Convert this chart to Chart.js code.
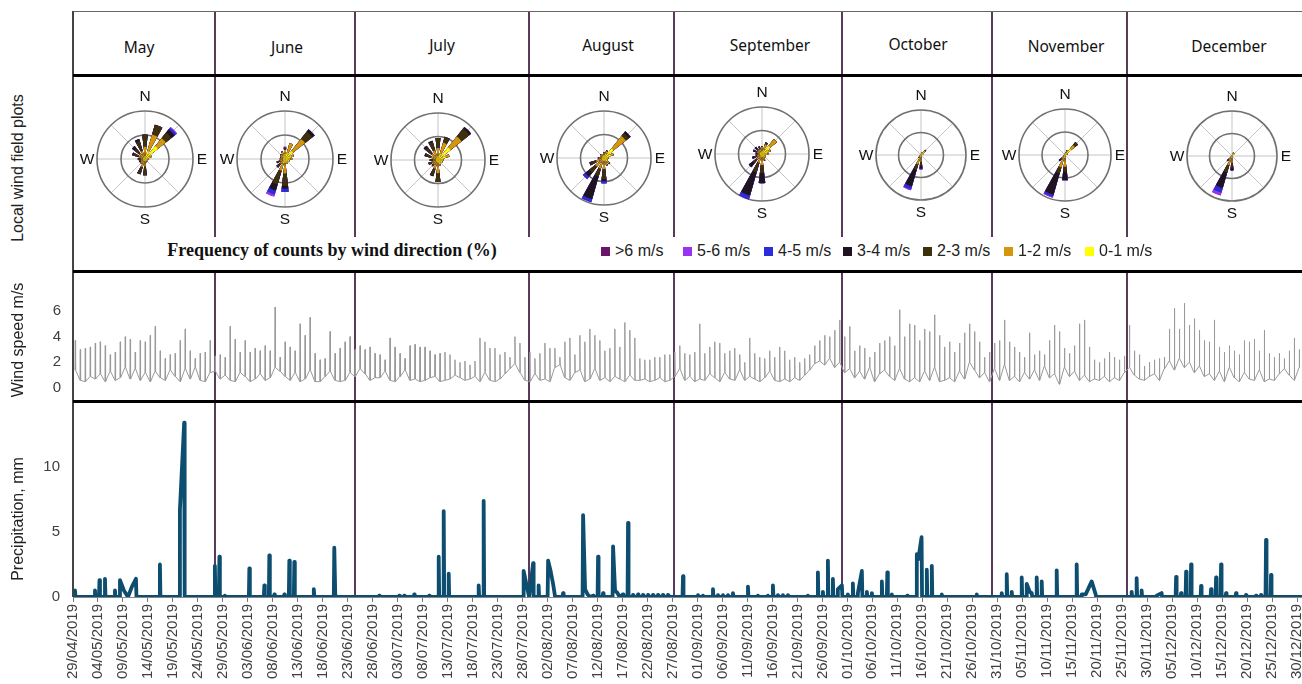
<!DOCTYPE html>
<html><head><meta charset="utf-8">
<script src="https://cdn.jsdelivr.net/npm/chart.js@4.4.1/dist/chart.umd.min.js"></script>
<style>
html,body{margin:0;padding:0;background:#fff;}
#page{position:relative;width:1302px;height:684px;overflow:hidden;font-family:"Liberation Sans",Arial,sans-serif;color:#222;}
canvas{position:absolute;}
.ln{position:absolute;z-index:5;}
.month{position:absolute;font-family:"Noto Sans","Open Sans",sans-serif;font-size:15.5px;transform:translate(-50%,-50%);white-space:nowrap;color:#111;}
.vt{position:absolute;font-size:16px;white-space:nowrap;transform:translate(-50%,-50%) rotate(-90deg);color:#222;}
#legTitle{position:absolute;left:332px;top:250px;transform:translate(-50%,-50%);font-family:"Liberation Serif","DejaVu Serif",serif;font-weight:bold;font-size:18px;white-space:nowrap;color:#111;}
.leg{position:absolute;top:251px;transform:translateY(-50%);font-size:16px;white-space:nowrap;color:#222;display:flex;align-items:center;}
.leg i{display:inline-block;width:9px;height:9px;margin-right:5px;}
</style></head>
<body><div id="page"></div>
<script>
// ---------------- DATA ----------------
const months = ['May','June','July','August','September','October','November','December'];
const speedClasses = ['0-1 m/s','1-2 m/s','2-3 m/s','3-4 m/s','4-5 m/s','5-6 m/s','>6 m/s'];
const compassLabels = ['N','E','S','W'];
const legendTitle = 'Frequency of counts by wind direction (%)';
const rowTitles = ['Local wind field plots','Wind speed m/s','Precipitation, mm'];
const startDate = [2019, 4, 29];            // 29/04/2019 = day 0
const axisDays = 246;
const dateTickStep = 5;
const windTicks = [0, 2, 4, 6];
const precipTicks = [0, 5, 10];
// month separators (days since 29/04/2019)
const separatorDays = [28.4, 56.4, 91.2, 120.2, 154, 184, 211];

// wind roses: 16 directions (N, NNE, ... NNW) x 7 speed classes (0-1 ... >6), % frequency
const roseMay = [
 [1.3,3.8,5.1,0,0,0,0],[3.4,7.2,4.3,0,0,0,0],[6.8,4.3,3.0,1.7,0.9,0.4,0],[2.1,0.9,0,0,0,0,0],
 [1.3,0.4,0,0,0,0,0],[0.9,0.3,0,0,0,0,0],[0.9,0.4,0,0,0,0,0],[0.9,0.4,0.2,0,0,0,0],
 [0.9,2.1,3.8,0,0,0,0],[0.9,2.6,3.0,0.2,0,0,0],[0.9,1.3,0.3,0,0,0,0],[0.9,0.9,0.9,0,0,0,0],
 [0.4,1.3,1.3,0,0,0,0],[0.9,1.7,2.6,0.4,0,0,0],[0.9,2.1,2.6,1.3,0,0,0],[0.9,2.6,4.3,0.9,0,0,0]];
const roseJune = [
 [2.1,1.7,0.9,0,0,0.4,0],[2.6,4.3,0,0,0,0,0],[4.3,6.4,3.8,1.3,0,0,0],[2.6,1.3,0,0,0,0,0],
 [2.1,0.9,0,0,0,0,0],[1.7,0.4,0,0,0,0,0],[1.3,0.4,0,0,0,0,0],[1.3,0.9,0,0,0,0,0],
 [1.7,4.3,5.1,1.3,1.3,0,0],[1.7,3.4,6.0,2.6,1.7,0.9,0],[0.9,1.7,1.7,0.3,0,0,0],[0.9,1.3,1.3,0.2,0,0,0],
 [0.9,1.3,0,0,0,0,0],[0.9,0.9,0.4,0,0,0,0],[0.9,1.3,0.4,0,0,0,0],[1.3,1.7,0.4,0,0,0,0]];
const roseJuly = [
 [1.7,3.4,4.3,0,0,0,0],[2.6,5.1,2.6,0,0,0,0],[6.8,6.0,4.3,0.9,0,0,0],[3.4,1.7,0,0,0,0,0],
 [2.1,0.4,0,0,0,0,0],[1.7,0.4,0,0,0,0,0],[1.3,0.4,0,0,0,0,0],[1.7,0.9,0,0,0,0,0],
 [1.3,4.3,3.8,0,0,0,0],[0.9,3.0,3.0,0.3,0,0,0],[0.9,1.7,0.9,0,0,0,0],[0.9,1.7,1.7,0,0,0,0],
 [0.9,1.3,1.3,0,0,0,0],[0.9,2.1,2.6,0.4,0,0,0],[0.9,2.6,3.4,0.9,0,0,0],[1.3,3.0,3.8,0.4,0,0,0]];
const roseAugust = [
 [1.3,0.9,0.4,0,0,0,0],[1.7,1.3,0.4,0,0,0,0],[5.1,6.8,1.7,0.9,0,0,0],[3.0,1.3,0,0,0,0,0],
 [1.7,0.4,0,0,0,0,0],[1.3,0.4,0,0,0,0,0],[1.7,1.3,0.4,0,0,0,0],[1.3,1.7,0.4,0,0,0,0],
 [1.3,3.4,4.3,0.9,0.9,0,0],[1.3,3.4,3.4,10.2,1.3,0,0],[1.3,3.4,3.4,2.1,1.3,0,0],[0.9,2.6,2.6,0.4,0,0,0],
 [0.9,1.3,0.4,0,0,0,0],[0.9,0.9,0,0,0,0,0],[0.9,0.9,0.4,0,0,0,0],[0.9,0.9,0,0,0,0,0]];
const roseSeptember = [
 [1.3,1.7,0.4,0,0,0,0],[1.7,2.6,0.9,0,0,0,0],[4.3,3.8,0,0,0,0,0],[2.6,1.3,0,0,0,0,0],
 [2.1,0.9,0,0,0,0,0],[1.3,0.4,0,0,0,0,0],[1.3,0.9,0,0,0,0,0],[1.3,1.3,0.4,0,0,0,0],
 [1.3,3.4,3.4,4.3,0,0,0],[1.3,2.6,4.3,10.2,1.7,0,0],[0.9,2.1,2.1,2.1,0,0,0],[0.9,1.3,1.3,0.9,0,0,0],
 [0.9,0.9,0.9,0,0,0,0],[0.9,1.3,0.9,0.9,0,0,0],[0.9,1.3,0.9,0.9,0,0,0],[0.9,1.3,0.9,0.4,0,0,0]];
const roseOctober = [
 [0.4,0.2,0,0,0,0,0],[0.9,0.4,0,0,0,0,0],[1.7,0.9,0.4,0,0,0,0],[0.9,0.2,0,0,0,0,0],
 [0.4,0,0,0,0,0,0],[0.4,0,0,0,0,0,0],[0.4,0.2,0,0,0,0,0],[0.4,0.4,0,0,0,0,0],
 [0.9,2.1,1.7,1.3,0.4,0,0],[0.9,3.4,2.6,7.7,1.3,0.4,0],[0.4,0.9,0.4,0,0,0,0],[0.4,0.4,0,0,0,0,0],
 [0.4,0,0,0,0,0,0],[0.4,0,0,0,0,0,0],[0.4,0,0,0,0,0,0],[0.4,0,0,0,0,0,0]];
const roseNovember = [
 [0.4,0.4,0,0,0,0,0],[0.9,0.9,0.4,0,0,0,0],[3.4,2.1,1.7,0,0,0,0],[0.9,0.4,0,0,0,0,0],
 [0.4,0,0,0,0,0,0],[0.4,0,0,0,0,0,0],[0.4,0,0,0,0,0,0],[0.4,0.4,0,0,0,0,0],
 [1.3,3.8,2.1,3.8,0,0,0],[1.3,4.3,2.6,9.8,0.9,0.4,0],[0.4,1.3,0.9,0.9,0,0,0],[0.4,0.4,0,0,0,0,0],
 [0.4,0,0,0,0,0,0],[0.4,0,0,0,0,0,0],[0.4,0,0,0,0,0,0],[0.4,0,0,0,0,0,0]];
const roseDecember = [
 [0.4,0,0,0,0,0,0],[1.3,0.4,0,0,0,0,0],[1.3,0.4,0,0,0,0,0],[0.4,0,0,0,0,0,0],
 [0.4,0,0,0,0,0,0],[0.2,0,0,0,0,0,0],[0.2,0,0,0,0,0,0],[0.4,0,0,0,0,0,0],
 [0.9,2.1,2.1,1.3,0,0,0],[0.9,3.4,3.4,7.2,2.1,1.3,0],[0.4,1.3,0.9,0.4,0,0,0],[0.4,0.4,0,0,0,0,0],
 [0.2,0,0,0,0,0,0],[0.2,0,0,0,0,0,0],[0.2,0,0,0,0,0,0],[0.2,0,0,0,0,0,0]];
const roses = [roseMay, roseJune, roseJuly, roseAugust, roseSeptember, roseOctober, roseNovember, roseDecember];

// daily wind speed: peak and low values (m/s), day 0 = 29/04/2019
const windPeak = [
 3.7,3.0,3.1,3.2,3.5,3.6,3.3,2.6,2.8,3.6,4.0,3.8,2.8,3.7,3.6,4.1,4.8,2.9,2.3,2.6,2.7,3.7,4.6,2.9,2.3,2.7,2.8,3.7,
 2.5,2.6,2.4,4.8,3.8,2.8,3.7,2.8,3.1,2.9,3.3,2.9,6.3,2.4,3.6,3.2,2.9,5.0,4.1,5.5,2.7,2.2,2.3,4.4,2.7,3.1,3.6,4.0,3.0,
 3.3,3.0,3.2,2.7,
 2.6,2.2,3.9,3.2,2.7,2.3,3.3,3.4,3.2,3.2,2.9,2.6,2.7,2.8,2.6,2.2,2.0,2.1,1.8,2.1,3.9,3.6,3.1,3.1,2.6,2.8,2.4,4.0,3.5,2.4,
 2.8,2.3,2.7,3.5,3.1,3.1,2.4,3.6,3.9,2.6,4.1,3.6,4.6,4.1,3.7,2.9,3.1,4.6,3.2,5.1,4.5,3.9,2.3,2.2,2.2,2.4,2.4,2.6,2.6,2.8,3.3,
 2.7,2.6,2.8,5.0,2.7,3.2,3.6,3.5,2.7,2.9,3.1,2.6,2.0,3.9,2.7,2.4,2.3,2.9,2.4,3.2,2.9,2.2,2.4,2.0,2.3,2.6,3.3,3.7,4.1,4.0,4.5,
 5.3,4.0,4.8,2.9,3.3,3.1,2.4,2.8,3.5,3.7,4.0,3.3,6.1,4.0,5.0,4.9,3.7,4.6,4.4,5.7,4.1,3.2,3.6,2.8,3.5,4.3,5.0,4.4,3.6,2.4,2.8,
 3.5,3.7,5.3,3.6,3.2,2.8,2.4,4.3,2.6,2.9,2.6,3.7,4.9,4.4,3.1,2.7,3.3,5.0,5.3,3.2,2.2,2.0,2.3,2.8,2.4,2.2,
 2.5,4.9,2.9,2.6,1.7,2.0,2.2,2.3,2.4,4.6,6.2,4.6,6.6,4.9,5.4,4.5,3.7,3.6,5.3,3.2,2.8,3.3,2.9,2.6,3.7,3.6,3.8,2.9,4.5,2.7,
 2.4,2.7,2.3,2.9,3.9,3.0];
const windLow = [
 1.4,0.6,0.5,0.9,0.7,1.1,0.5,1.3,0.6,0.8,1.6,0.7,1.5,0.6,1.2,0.5,1.3,0.8,0.6,1.4,0.9,0.5,1.5,0.7,1.6,0.6,0.5,1.2,
 1.3,0.7,1.0,0.6,0.5,1.2,0.9,0.5,0.7,1.1,0.6,0.8,1.6,1.3,0.9,0.6,1.2,0.5,0.7,1.4,0.5,0.5,0.9,1.3,0.6,0.5,0.6,1.2,0.9,
 1.5,1.1,0.6,0.8,
 0.8,1.3,0.6,0.5,0.9,1.4,0.6,0.7,0.5,0.6,0.8,0.9,0.5,0.6,0.7,1.0,0.8,0.6,0.7,0.9,0.5,1.2,0.6,0.5,0.7,1.1,1.5,1.9,1.2,0.6,
 0.5,1.1,0.6,0.7,0.5,1.6,1.8,0.8,0.6,1.2,1.4,0.5,0.7,1.5,0.6,0.8,0.5,0.9,0.7,0.5,1.0,0.6,0.6,0.7,0.5,0.6,0.8,0.5,0.6,0.9,1.5,
 0.6,0.9,0.5,0.7,0.6,1.1,0.8,0.5,1.2,0.7,0.6,1.4,0.6,0.9,0.7,0.5,0.8,1.3,0.6,0.5,0.7,0.5,0.8,0.6,1.0,1.4,1.9,2.1,1.8,2.3,
 1.6,2.0,1.2,1.5,0.8,1.3,0.7,1.6,0.5,1.1,1.4,0.9,0.6,1.5,0.7,0.5,0.8,0.5,1.3,0.6,1.6,0.5,0.6,0.8,0.5,1.3,0.7,2.0,1.4,0.8,1.2,0.5,
 1.5,0.6,1.8,0.6,0.9,0.5,1.2,0.7,1.4,0.6,1.7,0.8,1.1,0.3,1.6,0.9,1.3,0.6,1.0,0.5,0.7,0.6,0.9,0.5,0.8,0.6,1.2,1.6,1.0,0.7,
 0.6,0.9,1.1,0.6,1.5,2.1,1.4,2.3,1.6,2.0,1.2,1.7,0.9,1.1,0.6,1.3,0.5,1.6,0.8,0.5,1.2,0.7,0.6,1.4,0.5,0.7,0.6,1.1,1.5,1.0,
 0.6,1.6];

// precipitation events: day since 29/04/2019 and amount (mm)
const precipDay = [0.4,4.4,5.3,6.4,8.4,9.4,10.2,11.0,11.8,12.6,17.4,21.4,22.25,28.4,29.3,30.4,35.3,38.3,39.3,40.3,42.3,43.3,44.3,48.2,52.3,52.5,
 61.3,65.3,66.3,68.3,71.3,73.2,74.2,75.2,81.2,82.2,90.2,90.8,91.3,92.1,93.2,95.1,95.6,96.1,96.5,98.1,102.1,102.5,103.0,103.5,104.1,105.1,106.1,
 108.1,108.5,109.0,109.4,110.1,111.1,112.1,113.1,114.1,115.1,116.1,117.1,118.1,119.1,122.1,125.1,126.1,128.1,129.1,130.1,131.1,132.1,135.1,137.1,139.1,
 140.1,141.1,142.1,143.1,147.1,149.1,150.1,151.1,152.1,153.1,153.9,155.1,156.1,157.1,157.9,158.9,159.9,161.9,163.0,163.9,167.0,168.9,169.2,169.85,
 170.9,171.9,173.9,180.9,185.9,186.9,187.9,189.9,190.9,191.5,191.9,192.9,193.9,196.9,200.9,201.9,202.7,203.3,203.9,204.7,211.9,212.9,213.9,
 216.9,217.4,217.9,220.8,221.8,222.8,223.8,225.8,227.8,228.8,229.8,230.8,232.8,234.8,236.8,237.8,238.8,239.8];
const precipMm = [0.5,0.5,1.3,1.4,0.5,1.3,0.5,0,0.8,1.4,2.5,6.7,13.4,2.4,3.1,0.1,2.2,0.9,3.2,0.2,0.2,2.8,2.7,0.6,3.8,0.1,
 0.1,0.1,0.1,0.2,0.1,3.1,6.6,1.8,0.9,7.4,2.0,0.9,0,2.6,0.9,2.8,2.0,1.0,0,0.3,6.3,0.6,0.2,0,0.1,3.1,0.3,
 3.9,0.5,0.3,0,0.2,5.7,0.15,0.2,0.15,0.15,0.15,0.15,0.15,0.15,1.6,0.15,0.1,0.6,0.15,0.15,0.15,0.3,0.8,0.1,0.1,
 0.9,0.15,0.15,0.15,0.1,1.9,0.4,2.8,1.4,0.6,0.9,0.2,1.05,0.3,2.0,0.4,0.3,1.2,1.9,0.2,0.1,3.3,2.9,4.6,
 2.1,2.4,0.2,0.2,0.3,1.75,0.4,1.5,1.0,0.4,0.3,1.5,1.2,2.05,2.5,0.2,0.2,0.7,1.2,0.2,0.4,1.45,0.5,
 0.1,0.2,0.3,1.55,0.3,1.95,2.5,0.85,0.6,1.5,2.5,0.3,0.3,0.15,0.1,0.15,4.4,1.7];

// ---------------- LAYOUT / STYLE ----------------
const speedColors = ['#ffff00','#d4960c','#3e300a','#1e1420','#2c2cd8','#9a32f2','#6b1569'];
const monthLabelX = [139,287,442,608,770,918,1066,1229];
const monthLabelY = [47,47,45,45,45,44,46,46];
const roseCX = [145,285,438,604,762,921,1065,1232];
const roseCY = [159,159,160,158,154,155,155,156];
const roseR = [48,48,47,47,47,45,46,45];
const legendX = [601,683,764,843,923,1004,1085];
const PETAL = 13, GAP = 9.5;
const SEP_COLOR = '#5a3a5a';
const JOIN = 0.86;

Chart.defaults.font.family = '"Liberation Sans", Arial, sans-serif';
const page = document.getElementById('page');
function el(tag, cls, css, txt){ const e=document.createElement(tag); if(cls) e.className=cls; Object.assign(e.style, css||{}); if(txt!==undefined) e.textContent=txt; page.appendChild(e); return e; }
function mkCanvas(l,t,w,h){ const c=document.createElement('canvas'); c.width=w; c.height=h; c.style.left=l+'px'; c.style.top=t+'px'; c.style.width=w+'px'; c.style.height=h+'px'; page.appendChild(c); return c; }

const DAY0 = Date.UTC(startDate[0], startDate[1]-1, startDate[2]);
function dayLabel(v){ const dt=new Date(DAY0+Math.round(v)*86400000); return String(dt.getUTCDate()).padStart(2,'0')+'/'+String(dt.getUTCMonth()+1).padStart(2,'0')+'/'+dt.getUTCFullYear(); }

const sepPlugin = { id:'monthSeps', beforeDatasetsDraw(chart){
  const {ctx, chartArea:a, scales:{x}} = chart; ctx.save(); ctx.strokeStyle=SEP_COLOR; ctx.lineWidth=2;
  separatorDays.forEach(d=>{ const px=Math.round(x.getPixelForValue(d)); ctx.beginPath(); ctx.moveTo(px,a.top); ctx.lineTo(px,a.bottom); ctx.stroke(); });
  ctx.restore(); } };

// ---------------- WIND SPEED ----------------
const windPts = [];
windPeak.forEach((p,d)=>{ windPts.push({x:d+0.40,y:windLow[d]},{x:d+0.46,y:p},{x:d+0.52,y:windLow[d]}); });
new Chart(mkCanvas(0,273,1302,127), {
  type:'line',
  data:{datasets:[{data:windPts, borderColor:'#9a9a9a', borderWidth:1, pointRadius:0, tension:0, fill:false}]},
  options:{responsive:false, animation:false, layout:{padding:0}, events:[],
    plugins:{legend:{display:false}, tooltip:{enabled:false}},
    scales:{
      x:{type:'linear', min:0, max:axisDays, display:false},
      y:{min:-0.93, max:8.95, afterBuildTicks:s=>{s.ticks=windTicks.map(v=>({value:v}));},
         afterFit:s=>{s.width=73; s.paddingTop=0; s.paddingBottom=0;},
         grid:{display:false, drawTicks:false}, border:{display:false},
         ticks:{font:{size:15}, color:'#404040', padding:12}}
    }},
  plugins:[sepPlugin]
});

// ---------------- PRECIPITATION ----------------
const precipPts = [{x:0,y:0}];
precipDay.forEach((d,i)=>{
  const prev = i>0 ? precipDay[i-1] : -99, next = i<precipDay.length-1 ? precipDay[i+1] : 999;
  if (d-prev > JOIN) precipPts.push({x:d-0.1,y:0});
  precipPts.push({x:d,y:precipMm[i]});
  if (next-d > JOIN) precipPts.push({x:d+0.1,y:0});
});
precipPts.push({x:axisDays,y:0});
const precipChart = new Chart(mkCanvas(0,403,1302,281), {
  type:'line',
  data:{datasets:[{data:precipPts, borderColor:'#0d4d70', borderWidth:3.8, borderJoinStyle:'round', borderCapStyle:'round', pointRadius:0, tension:0, fill:false}]},
  options:{responsive:false, animation:false, layout:{padding:0}, events:[],
    plugins:{legend:{display:false}, tooltip:{enabled:false}},
    scales:{
      x:{type:'linear', min:0, max:axisDays,
         ticks:{stepSize:dateTickStep, autoSkip:false, includeBounds:false, maxRotation:90, minRotation:90, font:{size:15}, color:'#404040', padding:2, callback:v=>dayLabel(v)},
         grid:{drawOnChartArea:false, drawTicks:true, tickLength:5, color:'#777'}, border:{display:true, color:'#888'},
         afterFit:s=>{s.height=87; s.paddingLeft=0; s.paddingRight=0;}},
      y:{min:0, max:14.92, afterBuildTicks:s=>{s.ticks=precipTicks.map(v=>({value:v}));},
         afterFit:s=>{s.width=73; s.paddingTop=0; s.paddingBottom=0;},
         grid:{display:false, drawTicks:false}, border:{display:false},
         ticks:{font:{size:15}, color:'#404040', padding:13}}
    }},
  plugins:[sepPlugin]
});

// ---------------- WIND ROSES ----------------
const roseDecor = { id:'roseDecor',
  beforeDraw(chart){ const r=chart.scales.r, ctx=chart.ctx; ctx.save(); ctx.strokeStyle='#c4c4c4'; ctx.lineWidth=1;
    for(let k=0;k<8;k++){ const a=k*Math.PI/4; ctx.beginPath(); ctx.moveTo(r.xCenter,r.yCenter); ctx.lineTo(r.xCenter+Math.sin(a)*r.drawingArea, r.yCenter-Math.cos(a)*r.drawingArea); ctx.stroke(); }
    ctx.restore(); },
  afterDraw(chart){ const r=chart.scales.r, ctx=chart.ctx, R=r.drawingArea; ctx.save(); ctx.fillStyle='#111'; ctx.font='15.5px "Liberation Sans", Arial, sans-serif'; ctx.textAlign='center'; ctx.textBaseline='middle';
    const off=[[0,-(R+14)],[R+9,1],[0,R+13],[-(R+10),1]];
    compassLabels.forEach((t,i)=>ctx.fillText(t, r.xCenter+off[i][0], r.yCenter+off[i][1]));
    ctx.restore(); } };

roses.forEach((rose,m)=>{
  const datasets = speedColors.map((col,k)=>{
    const data=[];
    rose.forEach(row=>{ let cum=0; for(let j=0;j<=k;j++) cum+=row[j]; data.push(cum, 0); });
    return {data, backgroundColor:col, borderWidth:0, angle:(ctx)=> ctx.index%2===0 ? PETAL : GAP};
  });
  const pad = 75 - roseR[m];
  new Chart(mkCanvas(roseCX[m]-75, roseCY[m]-75, 150, 150), {
    type:'polarArea',
    data:{labels:new Array(32).fill(''), datasets},
    options:{responsive:false, animation:false, events:[], layout:{padding:pad},
      plugins:{legend:{display:false}, tooltip:{enabled:false}},
      scales:{r:{min:0, max:20, startAngle:-PETAL/2, ticks:{display:false, stepSize:10},
        grid:{circular:true, color:'#707070', lineWidth:1.6}, angleLines:{display:false}, pointLabels:{display:false}}}},
    plugins:[roseDecor]
  });
});

// ---------------- FRAME, HEADERS, LEGEND ----------------
el('div','ln',{left:'73px',top:'11px',width:'1229px',height:'1px',background:'#666'});
el('div','ln',{left:'72px',top:'11px',width:'2px',height:'586px',background:'#444'});
[74,270,400].forEach(y=>el('div','ln',{left:'73px',top:y+'px',width:'1229px',height:'3px',background:'#000'}));
separatorDays.forEach(d=>{
  const px=Math.round(precipChart.scales.x.getPixelForValue(d));
  el('div','ln',{left:(px-1)+'px',top:'12px',width:'2px',height:'62px',background:SEP_COLOR});
  el('div','ln',{left:(px-1)+'px',top:'77px',width:'2px',height:'160px',background:SEP_COLOR});
});
months.forEach((mth,i)=>el('div','month',{left:monthLabelX[i]+'px',top:monthLabelY[i]+'px'},mth));
el('div','vt',{left:'18px',top:'168px'},rowTitles[0]);
el('div','vt',{left:'18px',top:'340px'},rowTitles[1]);
el('div','vt',{left:'18px',top:'519px'},rowTitles[2]);
const lt = el('div',null,{},legendTitle); lt.id='legTitle';
speedClasses.slice().reverse().forEach((lab,i)=>{
  const it = el('div','leg',{left:legendX[i]+'px'});
  const sw=document.createElement('i'); sw.style.background=speedColors[speedColors.length-1-i]; it.appendChild(sw);
  it.appendChild(document.createTextNode(lab));
});
</script></body></html>
